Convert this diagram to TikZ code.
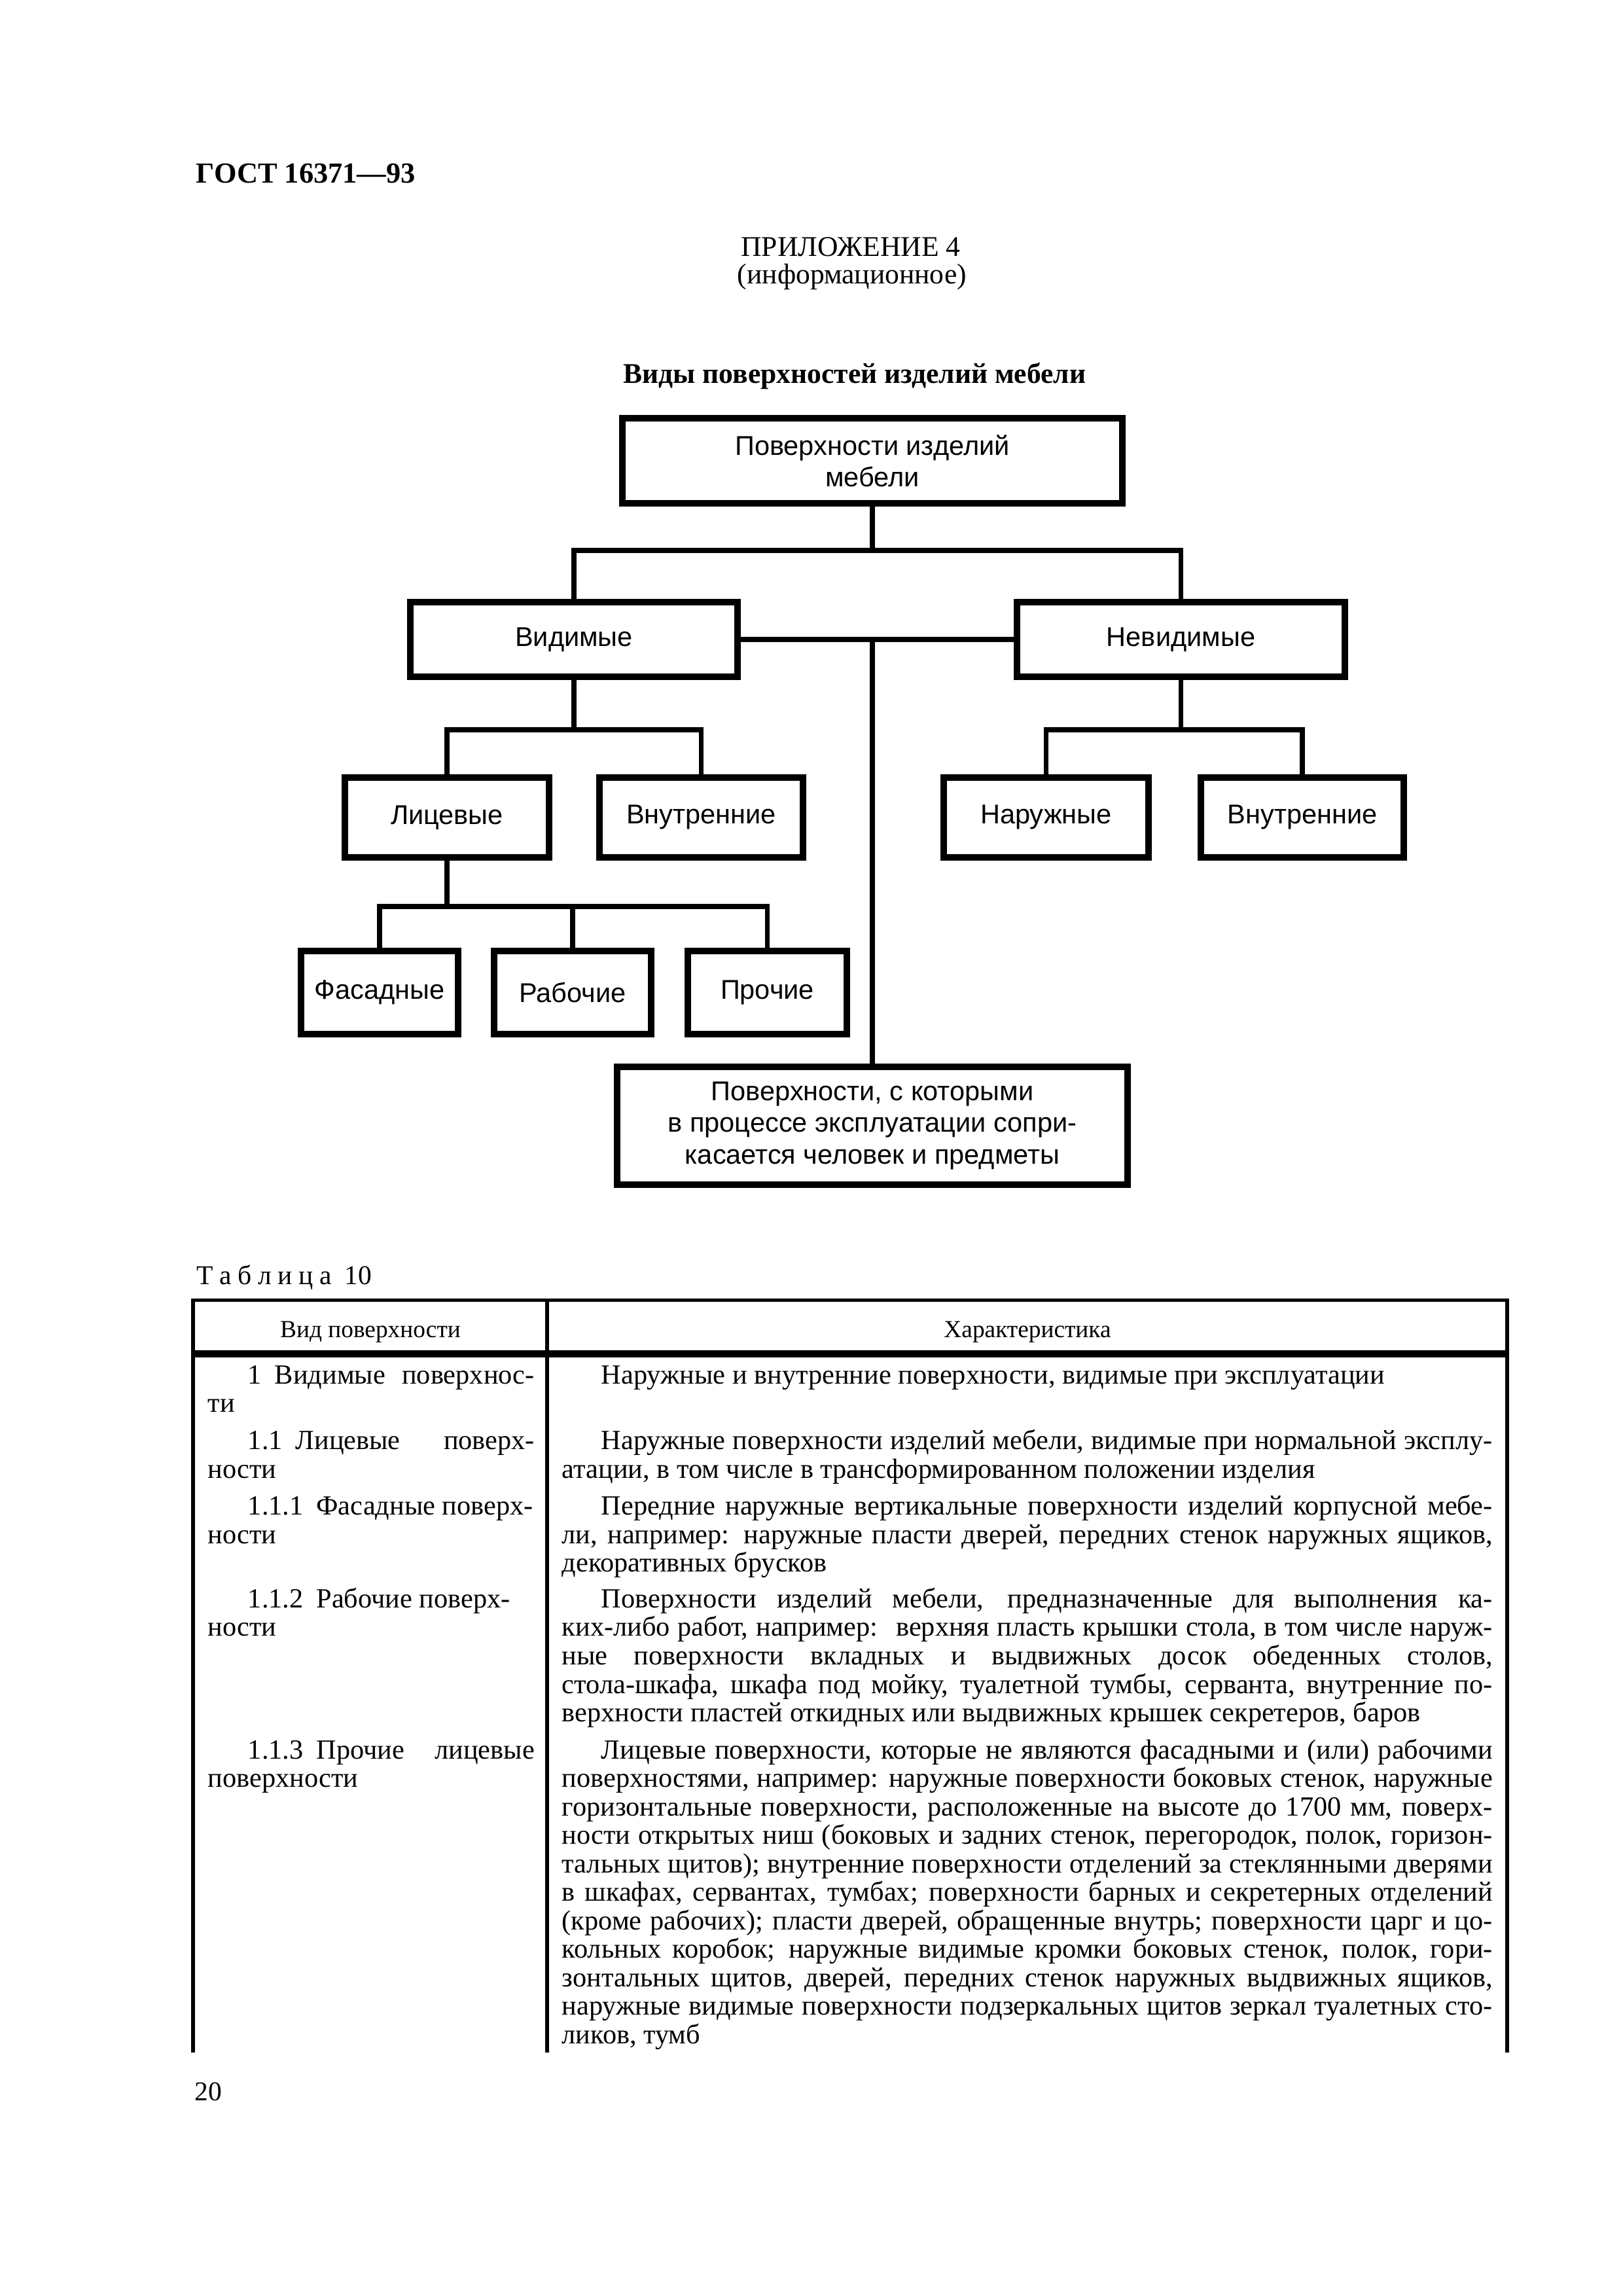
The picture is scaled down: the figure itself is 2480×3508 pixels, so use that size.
\documentclass[tikz,border=0pt]{standalone}
\usepackage{fontspec}
\setmainfont{Liberation Serif}
\newfontfamily\arialf{Liberation Sans}
\newdimen\pxu \pxu=0.084667mm
\newcounter{ln}
\newcommand{\jl}[4]{\stepcounter{ln}\node[txt] (ln\theln) at (#1,#2) {\makebox[#3\pxu][s]{#4}};}
\newcommand{\nl}[3]{\stepcounter{ln}\node[txt] (ln\theln) at (#1,#2) {#3};}
\newcommand{\numgap}{\hspace*{20\pxu}}
\begin{document}
\begin{tikzpicture}[x=0.084667mm,y=-0.084667mm,
  txt/.style={anchor=base west,inner sep=0pt,font=\fontsize{10.2}{12}\selectfont},
  box/.style={draw,line width=2.4pt,inner sep=0pt,align=center,font=\arialf\fontsize{10}{11.6}\selectfont},
  conn/.style={line width=1.9pt},
  rule/.style={line width=1.3pt}]
\useasboundingbox (0,0) rectangle (2480,3508);
\fill[white] (0,0) rectangle (2480,3508);
% header
\node[anchor=base west,inner sep=0pt,font=\fontsize{10.7}{13}\selectfont\bfseries] (gost) at (299,279) {ГОСТ 16371—93};
\node[anchor=base,inner sep=0pt,font=\fontsize{10.5}{12}\selectfont] (pril) at (1300,391) {ПРИЛОЖЕНИЕ 4};
\node[anchor=base,inner sep=0pt,font=\fontsize{10.5}{12}\selectfont] (inf) at (1302,433) {(информационное)};
\node[anchor=base,inner sep=0pt,font=\fontsize{10.5}{12}\selectfont\bfseries] (title) at (1306,585) {Виды поверхностей изделий мебели};
% diagram
\node[box,minimum width=764\pxu,minimum height=130\pxu] (top) at (1333,704) {Поверхности изделий\\мебели};
\node[box,minimum width=500\pxu,minimum height=114\pxu] (vid) at (877,977) {Видимые};
\node[box,minimum width=501\pxu,minimum height=114\pxu] (nev) at (1804.5,977) {Невидимые};
\node[box,minimum width=312\pxu,minimum height=122\pxu] (lic) at (683,1249) {Лицевые};
\node[box,minimum width=311\pxu,minimum height=122\pxu] (vnl) at (1071.5,1249) {Внутренние};
\node[box,minimum width=313\pxu,minimum height=122\pxu] (nar) at (1598.5,1249) {Наружные};
\node[box,minimum width=310\pxu,minimum height=122\pxu] (vnr) at (1990,1249) {Внутренние};
\node[box,minimum width=240\pxu,minimum height=127\pxu] (fas) at (580,1516.5) {Фасадные};
\node[box,minimum width=240\pxu,minimum height=127\pxu] (rab) at (875,1516.5) {Рабочие};
\node[box,minimum width=243\pxu,minimum height=127\pxu] (pro) at (1172.5,1516.5) {Прочие};
\node[box,minimum width=780\pxu,minimum height=180\pxu] (bot) at (1333,1720) {Поверхности, с которыми\\в процессе эксплуатации сопри-\\касается человек и предметы};
\coordinate (j1) at (1333,841);
\coordinate (j2) at (1333,977);
\coordinate (j3) at (877,1115);
\coordinate (j4) at (1804.5,1115);
\coordinate (j5) at (683,1385);
\draw[conn] (top.south) -- (j1);
\draw[conn] (vid.north) |- (j1) -| (nev.north);
\draw[conn] (vid.east) -- (nev.west);
\draw[conn] (j2) -- (bot.north);
\draw[conn] (vid.south) -- (j3);
\draw[conn] (lic.north) |- (j3) -| (vnl.north);
\draw[conn] (nev.south) -- (j4);
\draw[conn] (nar.north) |- (j4) -| (vnr.north);
\draw[conn] (lic.south) -- (j5);
\draw[conn] (fas.north) |- (j5) -| (pro.north);
\draw[conn] (rab.north) -- (rab.north |- j5);
% table caption
\node[txt,font=\fontsize{10}{12}\selectfont] (tabcap) at (300,1962) {Т\kern2.3pt а\kern2.3pt б\kern2.3pt л\kern2.3pt и\kern2.3pt ц\kern2.3pt а\kern2.3pt\ 10};
% table rules
\draw[rule] (295,3136) -- (295,1986.5) -- (2303,1986.5) -- (2303,3136);
\draw[rule] (836,1986.5) -- (836,3136);
\draw[line width=2.6pt] (295,2068.5) -- (2303,2068.5);
\node[anchor=base,inner sep=0pt,font=\fontsize{9}{11}\selectfont] (h1) at (566,2043) {Вид поверхности};
\node[anchor=base,inner sep=0pt,font=\fontsize{9}{11}\selectfont] (h2) at (1570,2043) {Характеристика};
% left column
\jl{378}{2114}{438}{1\numgap Видимые поверхнос-}
\nl{317}{2157}{ти}
\jl{378}{2214}{438}{1.1\numgap Лицевые поверх-}
\nl{317}{2258}{ности}
\nl{378}{2314}{1.1.1\numgap Фасадные поверх-}
\nl{317}{2358}{ности}
\nl{378}{2456}{1.1.2\numgap Рабочие поверх-}
\nl{317}{2499}{ности}
\jl{378}{2687}{438}{1.1.3\numgap Прочие лицевые}
\nl{317}{2730}{поверхности}
% right column
\nl{918}{2114}{Наружные и внутренние поверхности, видимые при эксплуатации}
\jl{918}{2214}{1362}{Наружные поверхности изделий мебели, видимые при нормальной эксплу-}
\nl{858}{2258}{атации, в том числе в трансформированном положении изделия}
\jl{918}{2314}{1362}{Передние наружные вертикальные поверхности изделий корпусной мебе-}
\jl{858}{2358}{1422}{ли, например: наружные пласти дверей, передних стенок наружных ящиков,}
\nl{858}{2401}{декоративных брусков}
\jl{918}{2456}{1362}{Поверхности изделий мебели, предназначенные для выполнения ка-}
\jl{858}{2499}{1422}{ких-либо работ, например: \ верхняя пласть крышки стола, в том числе наруж-}
\jl{858}{2543}{1422}{ные поверхности вкладных и выдвижных досок обеденных столов,}
\jl{858}{2587}{1422}{стола-шкафа, шкафа под мойку, туалетной тумбы, серванта, внутренние по-}
\nl{858}{2630}{верхности пластей откидных или выдвижных крышек секретеров, баров}
\jl{918}{2687}{1362}{Лицевые поверхности, которые не являются фасадными и (или) рабочими}
\jl{858}{2730}{1422}{поверхностями, например: наружные поверхности боковых стенок, наружные}
\jl{858}{2774}{1422}{горизонтальные поверхности, расположенные на высоте до 1700 мм, поверх-}
\jl{858}{2817}{1422}{ности открытых ниш (боковых и задних стенок, перегородок, полок, горизон-}
\jl{858}{2861}{1422}{тальных щитов); внутренние поверхности отделений за стеклянными дверями}
\jl{858}{2904}{1422}{в шкафах, сервантах, тумбах; поверхности барных и секретерных отделений}
\jl{858}{2948}{1422}{(кроме рабочих); пласти дверей, обращенные внутрь; поверхности царг и цо-}
\jl{858}{2991}{1422}{кольных коробок; наружные видимые кромки боковых стенок, полок, гори-}
\jl{858}{3035}{1422}{зонтальных щитов, дверей, передних стенок наружных выдвижных ящиков,}
\jl{858}{3078}{1422}{наружные видимые поверхности подзеркальных щитов зеркал туалетных сто-}
\nl{858}{3122}{ликов, тумб}
% page number
\node[txt,font=\fontsize{10}{12}\selectfont] (pnum) at (297,3209) {20};
\end{tikzpicture}
\end{document}
